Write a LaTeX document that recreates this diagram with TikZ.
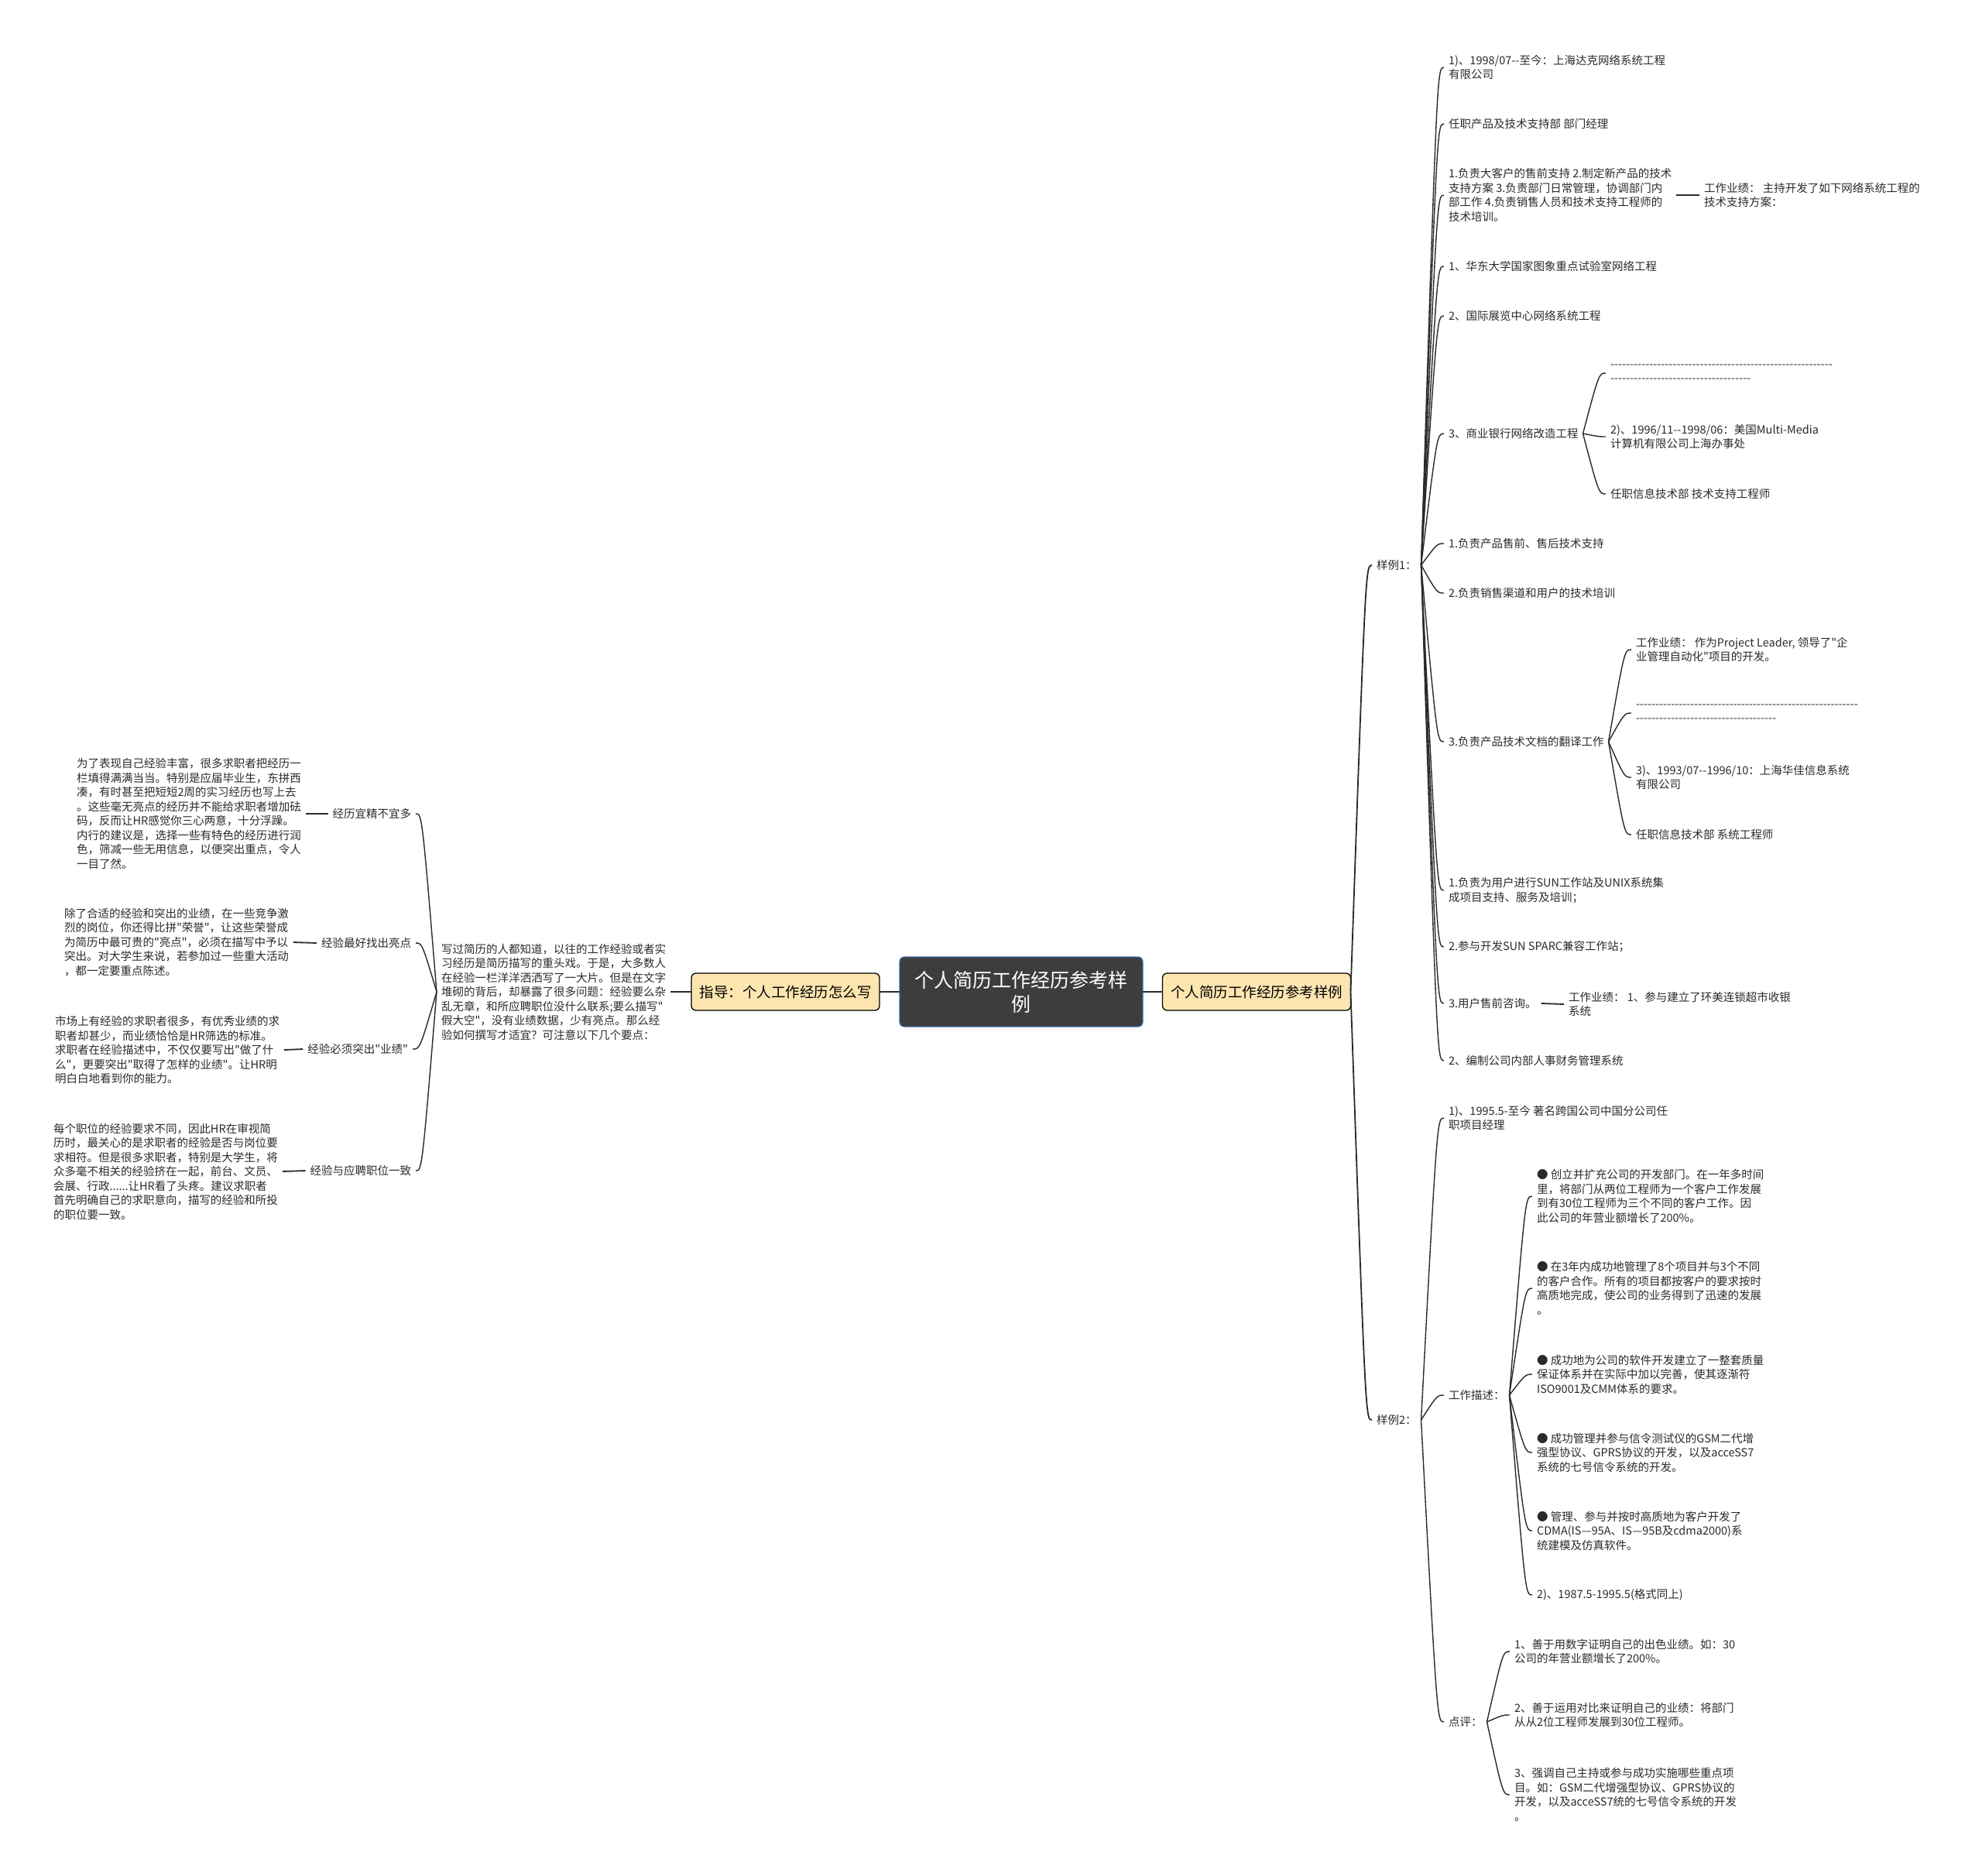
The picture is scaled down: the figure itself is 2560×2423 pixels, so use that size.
\documentclass[tikz,border=0pt]{standalone}
\usepackage{fontspec}
\usepackage{tikz}
\usetikzlibrary{calc,positioning}
\newfontfamily\cjk{Noto Sans CJK SC}
\definecolor{darkx}{HTML}{3D3D3D}
\definecolor{bluex}{HTML}{3C6BA8}
\definecolor{sandx}{HTML}{FDE5B0}
\definecolor{inkx}{HTML}{2A2A2A}
\tikzset{
  txt/.style={font=\cjk\fontsize{14.5}{18.5}\selectfont,align=left,inner sep=0pt,outer sep=6pt,text=inkx},
  root/.style={draw=bluex,line width=1.2pt,fill=darkx,rounded corners=6pt,text=white,align=center,
    font=\cjk\fontsize{25}{31}\selectfont,minimum width=314pt,minimum height=90pt,inner sep=0pt,outer sep=0pt},
  main/.style={draw=black,line width=1.3pt,fill=sandx,rounded corners=6pt,text=black,
    font=\cjk\fontsize{18.5}{22}\selectfont,minimum width=243pt,minimum height=48pt,inner sep=0pt,outer sep=0pt},
  ln/.style={line width=1.8pt,inkx},
  cv/.style={line width=1.4pt,inkx,
    to path={.. controls ($(\tikztostart |- \tikztotarget)!0.7!(\tikztotarget)$) .. (\tikztotarget)}}
}

\begin{document}
\begin{tikzpicture}[x=1pt,y=-1pt]
\useasboundingbox (0,0) rectangle (2560,2423);
\fill[white] (0,0) rectangle (2560,2423);

% centre and the two main topics
\node[root] (root) at (1319,1281) {个人简历工作经历参考样\\例};
\node[main] (guide) at (1014.5,1281) {指导：个人工作经历怎么写};
\node[main] (smp) at (1623,1281) {个人简历工作经历参考样例};
\draw[ln,line width=2.6pt] (root.west) -- (guide.east);
\draw[ln,line width=2.6pt] (root.east) -- (smp.west);

% left side
\node[txt,anchor=west] (gtxt) at (564,1281) {写过简历的人都知道，以往的工作经验或者实\\习经历是简历描写的重头戏。于是，大多数人\\在经验一栏洋洋洒洒写了一大片。但是在文字\\堆砌的背后，却暴露了很多问题：经验要么杂\\乱无章，和所应聘职位没什么联系;要么描写"\\假大空"，没有业绩数据，少有亮点。那么经\\验如何撰写才适宜？可注意以下几个要点：};
\draw[ln] (guide.west) -- (gtxt.east);

\node[txt,anchor=east] (l1) at (537,1051) {经历宜精不宜多};
\node[txt,anchor=east] (l2) at (537,1218) {经验最好找出亮点};
\node[txt,anchor=east] (l3) at (533,1355) {经验必须突出"业绩"};
\node[txt,anchor=east] (l4) at (537,1512) {经验与应聘职位一致};

\node[txt,anchor=east] (t1) at (395,1051) {为了表现自己经验丰富，很多求职者把经历一\\栏填得满满当当。特别是应届毕业生，东拼西\\凑，有时甚至把短短2周的实习经历也写上去\\。这些毫无亮点的经历并不能给求职者增加砝\\码，反而让HR感觉你三心两意，十分浮躁。\\内行的建议是，选择一些有特色的经历进行润\\色，筛减一些无用信息，以便突出重点，令人\\一目了然。};
\node[txt,anchor=east] (t2) at (379,1217) {除了合适的经验和突出的业绩，在一些竞争激\\烈的岗位，你还得比拼"荣誉"，让这些荣誉成\\为简历中最可贵的"亮点"，必须在描写中予以\\突出。对大学生来说，若参加过一些重大活动\\，都一定要重点陈述。};
\node[txt,anchor=east] (t3) at (367,1356) {市场上有经验的求职者很多，有优秀业绩的求\\职者却甚少，而业绩恰恰是HR筛选的标准。\\求职者在经验描述中，不仅仅要写出"做了什\\么"，更要突出"取得了怎样的业绩"。让HR明\\明白白地看到你的能力。};
\node[txt,anchor=east] (t4) at (365,1513) {每个职位的经验要求不同，因此HR在审视简\\历时，最关心的是求职者的经验是否与岗位要\\求相符。但是很多求职者，特别是大学生，将\\众多毫不相关的经验挤在一起，前台、文员、\\会展、行政......让HR看了头疼。建议求职者\\首先明确自己的求职意向，描写的经验和所投\\的职位要一致。};

\foreach \i in {1,...,4} {
  \draw[cv] (gtxt.west) to (l\i.east);
  \draw[ln] (l\i.west) -- (t\i.east);
}

% right side: sample 1
\node[txt,anchor=west] (s1) at (1772,730) {样例1：};
\node[txt,anchor=west] (s2) at (1772,1834) {样例2：};
\draw[cv,line width=1.8pt] (smp.east) to (s1.west);
\draw[cv,line width=1.8pt] (smp.east) to (s2.west);

\node[txt,anchor=west] (a1) at (1865,87) {1)、1998/07--至今：上海达克网络系统工程\\有限公司};
\node[txt,anchor=west] (a2) at (1865,160) {任职产品及技术支持部 部门经理};
\node[txt,anchor=west] (a3) at (1865,252) {1.负责大客户的售前支持 2.制定新产品的技术\\支持方案 3.负责部门日常管理，协调部门内\\部工作 4.负责销售人员和技术支持工程师的\\技术培训。};
\node[txt,anchor=west] (a3r) at (2195,252) {工作业绩： 主持开发了如下网络系统工程的\\技术支持方案：};
\node[txt,anchor=west] (a4) at (1865,344) {1、华东大学国家图象重点试验室网络工程};
\node[txt,anchor=west] (a5) at (1865,408) {2、国际展览中心网络系统工程};
\node[txt,anchor=west] (a6) at (1865,560) {3、商业银行网络改造工程};
\node[txt,anchor=west] (a6a) at (2074,482) {---------------------------------------------------------\\------------------------------------};
\node[txt,anchor=west] (a6b) at (2074,564) {2)、1996/11--1998/06：美国Multi-Media\\计算机有限公司上海办事处};
\node[txt,anchor=west] (a6c) at (2074,638) {任职信息技术部 技术支持工程师};
\node[txt,anchor=west] (a7) at (1865,702) {1.负责产品售前、售后技术支持};
\node[txt,anchor=west] (a8) at (1865,766) {2.负责销售渠道和用户的技术培训};
\node[txt,anchor=west] (a9) at (1865,958) {3.负责产品技术文档的翻译工作};
\node[txt,anchor=west] (a9a) at (2107,839) {工作业绩： 作为Project Leader, 领导了"企\\业管理自动化"项目的开发。};
\node[txt,anchor=west] (a9b) at (2107,921) {---------------------------------------------------------\\------------------------------------};
\node[txt,anchor=west] (a9c) at (2107,1004) {3)、1993/07--1996/10：上海华佳信息系统\\有限公司};
\node[txt,anchor=west] (a9d) at (2107,1078) {任职信息技术部 系统工程师};
\node[txt,anchor=west] (a10) at (1865,1150) {1.负责为用户进行SUN工作站及UNIX系统集\\成项目支持、服务及培训；};
\node[txt,anchor=west] (a11) at (1865,1223) {2.参与开发SUN SPARC兼容工作站；};
\node[txt,anchor=west] (a12) at (1865,1296) {3.用户售前咨询。};
\node[txt,anchor=west] (a12r) at (2020,1297) {工作业绩： 1、参与建立了环美连锁超市收银\\系统};
\node[txt,anchor=west] (a13) at (1865,1370) {2、编制公司内部人事财务管理系统};

\foreach \c in {a1,a2,a3,a4,a5,a6,a7,a8,a9,a10,a11,a12,a13}
  \draw[cv] (s1.east) to (\c.west);
\foreach \c in {a6a,a6b,a6c}
  \draw[cv] (a6.east) to (\c.west);
\foreach \c in {a9a,a9b,a9c,a9d}
  \draw[cv] (a9.east) to (\c.west);
\draw[ln] (a3.east) -- (a3r.west);
\draw[ln] (a12.east) -- (a12r.west);

% right side: sample 2
\node[txt,anchor=west] (b1) at (1865,1444) {1)、1995.5-至今 著名跨国公司中国分公司任\\职项目经理};
\node[txt,anchor=west] (b2) at (1865,1802) {工作描述：};
\node[txt,anchor=west] (b3) at (1865,2224) {点评：};

\node[txt,anchor=west] (b2a) at (1979,1545) {● 创立并扩充公司的开发部门。在一年多时间\\里，将部门从两位工程师为一个客户工作发展\\到有30位工程师为三个不同的客户工作。因\\此公司的年营业额增长了200\%。};
\node[txt,anchor=west] (b2b) at (1979,1664) {● 在3年内成功地管理了8个项目并与3个不同\\的客户合作。所有的项目都按客户的要求按时\\高质地完成，使公司的业务得到了迅速的发展\\。};
\node[txt,anchor=west] (b2c) at (1979,1775) {● 成功地为公司的软件开发建立了一整套质量\\保证体系并在实际中加以完善，使其逐渐符\\ISO9001及CMM体系的要求。};
\node[txt,anchor=west] (b2d) at (1979,1876) {● 成功管理并参与信令测试仪的GSM二代增\\强型协议、GPRS协议的开发，以及acceSS7\\系统的七号信令系统的开发。};
\node[txt,anchor=west] (b2e) at (1979,1977) {● 管理、参与并按时高质地为客户开发了\\CDMA(IS—95A、IS—95B及cdma2000)系\\统建模及仿真软件。};
\node[txt,anchor=west] (b2f) at (1979,2060) {2)、1987.5-1995.5(格式同上)};

\node[txt,anchor=west] (b3a) at (1950,2133) {1、善于用数字证明自己的出色业绩。如：30\\公司的年营业额增长了200\%。};
\node[txt,anchor=west] (b3b) at (1950,2215) {2、善于运用对比来证明自己的业绩：将部门\\从从2位工程师发展到30位工程师。};
\node[txt,anchor=west] (b3c) at (1950,2318) {3、强调自己主持或参与成功实施哪些重点项\\目。如：GSM二代增强型协议、GPRS协议的\\开发，以及acceSS7统的七号信令系统的开发\\。};

\foreach \c in {b1,b2,b3}
  \draw[cv] (s2.east) to (\c.west);
\foreach \c in {b2a,b2b,b2c,b2d,b2e,b2f}
  \draw[cv] (b2.east) to (\c.west);
\foreach \c in {b3a,b3b,b3c}
  \draw[cv] (b3.east) to (\c.west);
\end{tikzpicture}
\end{document}
